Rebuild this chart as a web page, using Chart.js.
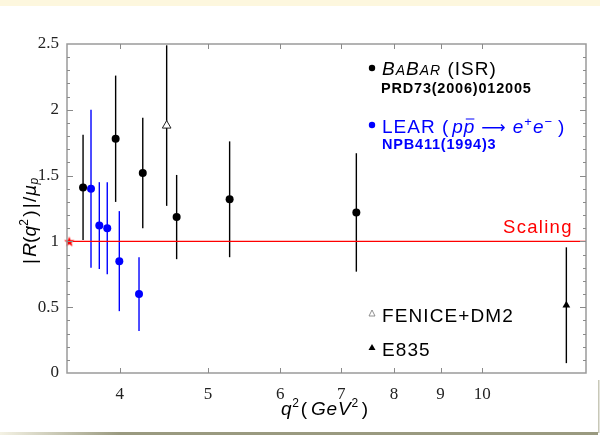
<!DOCTYPE html>
<html>
<head>
<meta charset="utf-8">
<script src="https://cdn.jsdelivr.net/npm/chart.js@4/dist/chart.umd.min.js"></script>
<style>
  html, body { margin: 0; padding: 0; background: #fff; }
  #wrap { width: 600px; height: 436px; position: relative; }
</style>
</head>
<body>
<div id="wrap"><canvas id="myChart" width="600" height="436"></canvas></div>
<script>
// data
const babarQ2 = [3.645, 3.958, 4.239, 4.618, 5.28, 7.274];
const babarR = [1.41, 1.78, 1.52, 1.185, 1.32, 1.22];
const babarErr = [0.40, 0.48, 0.42, 0.32, 0.44, 0.45];

const learQ2 = [3.719, 3.798, 3.875, 3.995, 4.199];
const learR = [1.40, 1.12, 1.10, 0.85, 0.60];
const learErr = [0.60, 0.33, 0.35, 0.38, 0.28];

const feniceQ2 = [4.503];
const feniceR = [1.88];
const feniceErr = [0.61];

const e835Q2 = [12.37];
const e835R = [0.515];
const e835Err = [0.44];

const scalingQ2 = [3.5, 13];
const scalingR = [1, 1];
const thresholdQ2 = [3.52];
const thresholdR = [1];

const xTicks = [4, 5, 6, 7, 8, 9, 10];
const yTicks = [0, 0.5, 1, 1.5, 2, 2.5];

const toPts = (xs, ys) => xs.map((x, i) => ({ x: x, y: ys[i] }));

// red star marker
const star = document.createElement('canvas');
star.width = 12; star.height = 12;
(function () {
    const c = star.getContext('2d');
    c.fillStyle = '#ff0000';
    c.beginPath();
    for (let i = 0; i < 10; i++) {
        const r = i % 2 ? 2.3 : 5.5;
        const a = -Math.PI / 2 + i * Math.PI / 5;
        c.lineTo(6 + r * Math.cos(a), 6.5 + r * Math.sin(a));
    }
    c.closePath();
    c.fill();
})();

function drawRuns(ctx, x, y, runs, spacing) {
    ctx.letterSpacing = (spacing || 0) + 'px';
    runs.forEach(r => {
        ctx.font = r.font;
        ctx.fillStyle = r.color;
        ctx.fillText(r.t, x, y + (r.dy || 0));
        const w = ctx.measureText(r.t).width;
        if (r.overline) {
            ctx.strokeStyle = r.color;
            ctx.lineWidth = 1;
            ctx.beginPath();
            ctx.moveTo(x + 2, y - 14);
            ctx.lineTo(x + w - 1, y - 14);
            ctx.stroke();
        }
        x += w + (r.gap || 0);
    });
    ctx.letterSpacing = '0px';
}

const errorBars = {
    id: 'errorBars',
    beforeDatasetsDraw(chart) {
        const ctx = chart.ctx;
        const xs = chart.scales.x, ys = chart.scales.y;
        const a = chart.chartArea;
        const sets = [
            [babarQ2, babarR, babarErr, '#000000'],
            [learQ2, learR, learErr, '#0000ff'],
            [feniceQ2, feniceR, feniceErr, '#000000'],
            [e835Q2, e835R, e835Err, '#000000']
        ];
        ctx.save();
        ctx.beginPath();
        ctx.rect(a.left, a.top, a.right - a.left, a.bottom - a.top);
        ctx.clip();
        ctx.lineWidth = 1.4;
        sets.forEach(s => {
            ctx.strokeStyle = s[3];
            s[0].forEach((q, i) => {
                const px = xs.getPixelForValue(q);
                ctx.beginPath();
                ctx.moveTo(px, ys.getPixelForValue(s[1][i] + s[2][i]));
                ctx.lineTo(px, ys.getPixelForValue(s[1][i] - s[2][i]));
                ctx.stroke();
            });
        });
        ctx.restore();
    }
};

const decor = {
    id: 'decor',
    beforeDraw(chart) {
        const ctx = chart.ctx;
        ctx.save();
        ctx.fillStyle = '#fdf7de';
        ctx.fillRect(0, 0, 600, 6);
        const g = ctx.createLinearGradient(0, 0, 120, 0);
        g.addColorStop(0, '#f4f2e4');
        g.addColorStop(1, '#9a9a80');
        ctx.fillStyle = g;
        ctx.fillRect(0, 432, 598, 3);
        ctx.fillStyle = '#c8c8b8';
        ctx.fillRect(598, 380, 1.5, 53);
        ctx.restore();
    },
    afterDraw(chart) {
        const ctx = chart.ctx;
        const xs = chart.scales.x, ys = chart.scales.y;
        const a = chart.chartArea;
        ctx.save();
        // frame
        ctx.strokeStyle = '#9a9a9a';
        ctx.lineWidth = 1.5;
        ctx.strokeRect(a.left, a.top, a.right - a.left, a.bottom - a.top);
        // inward ticks
        ctx.lineWidth = 1;
        ctx.strokeStyle = '#8a8a8a';
        ctx.beginPath();
        for (let k = 1; k < 25; k++) {
            const v = k / 10;
            const py = Math.round(ys.getPixelForValue(v)) + 0.5;
            const len = k % 5 === 0 ? 6 : 3;
            ctx.moveTo(a.left, py); ctx.lineTo(a.left + len, py);
            ctx.moveTo(a.right, py); ctx.lineTo(a.right - len, py);
        }
        xTicks.forEach(v => {
            const px = Math.round(xs.getPixelForValue(v)) + 0.5;
            ctx.moveTo(px, a.bottom); ctx.lineTo(px, a.bottom - 5);
            ctx.moveTo(px, a.top); ctx.lineTo(px, a.top + 5);
        });
        ctx.stroke();

        // scaling line label
        ctx.textAlign = 'left';
        ctx.textBaseline = 'alphabetic';
        drawRuns(ctx, 503, 233, [
            { t: 'Scaling', font: '18.5px "Liberation Sans"', color: '#ff0000' }
        ], 1.3);

        // legend
        ctx.fillStyle = '#000';
        ctx.beginPath(); ctx.arc(372, 68, 3.2, 0, Math.PI * 2); ctx.fill();
        drawRuns(ctx, 382, 75, [
            { t: 'B', font: 'italic 19px "Liberation Sans"', color: '#000' },
            { t: 'A', font: 'italic 14px "Liberation Sans"', color: '#000' },
            { t: 'B', font: 'italic 19px "Liberation Sans"', color: '#000' },
            { t: 'AR', font: 'italic 14px "Liberation Sans"', color: '#000' },
            { t: ' (ISR)', font: '19px "Liberation Sans"', color: '#000' }
        ], 1);
        drawRuns(ctx, 381, 93, [
            { t: 'PRD73(2006)012005', font: 'bold 14.5px "Liberation Sans"', color: '#000' }
        ], 0.8);

        ctx.fillStyle = '#0000ff';
        ctx.beginPath(); ctx.arc(372, 125, 3.2, 0, Math.PI * 2); ctx.fill();
        drawRuns(ctx, 382, 133, [
            { t: 'LEAR (', font: '19px "Liberation Sans"', color: '#0000ff', gap: 3 },
            { t: 'p', font: 'italic 19px "Liberation Sans"', color: '#0000ff' },
            { t: 'p', font: 'italic 19px "Liberation Sans"', color: '#0000ff', overline: true, gap: 6 },
            { t: '\u27f6', font: '17px "DejaVu Sans"', color: '#0000ff', gap: 6 },
            { t: 'e', font: 'italic 19px "Liberation Sans"', color: '#0000ff' },
            { t: '+', font: '13px "Liberation Sans"', color: '#0000ff', dy: -7 },
            { t: 'e', font: 'italic 19px "Liberation Sans"', color: '#0000ff' },
            { t: '\u2212', font: '13px "Liberation Sans"', color: '#0000ff', dy: -7, gap: 5 },
            { t: ')', font: '19px "Liberation Sans"', color: '#0000ff' }
        ], 1);
        drawRuns(ctx, 382, 149, [
            { t: 'NPB411(1994)3', font: 'bold 14.5px "Liberation Sans"', color: '#0000ff' }
        ], 0.8);

        // lower legend
        ctx.strokeStyle = '#777';
        ctx.lineWidth = 0.8;
        ctx.beginPath();
        ctx.moveTo(372, 310); ctx.lineTo(375, 316); ctx.lineTo(369, 316); ctx.closePath();
        ctx.stroke();
        ctx.fillStyle = '#000';
        ctx.beginPath();
        ctx.moveTo(372, 344); ctx.lineTo(375.5, 350); ctx.lineTo(368.5, 350); ctx.closePath();
        ctx.fill();
        drawRuns(ctx, 382, 322, [
            { t: 'FENICE+DM2', font: '19px "Liberation Sans"', color: '#000' }
        ], 1.1);
        drawRuns(ctx, 382, 356, [
            { t: 'E835', font: '19px "Liberation Sans"', color: '#000' }
        ], 1.1);

        // axis titles
        drawRuns(ctx, 281, 415, [
            { t: 'q', font: 'italic 19px "Liberation Sans"', color: '#000' },
            { t: '2', font: '12px "Liberation Sans"', color: '#000', dy: -8, gap: 1 },
            { t: '(', font: '19px "Liberation Sans"', color: '#000', gap: 3 },
            { t: 'GeV', font: 'italic 19px "Liberation Sans"', color: '#000' },
            { t: '2', font: '12px "Liberation Sans"', color: '#000', dy: -8, gap: 3 },
            { t: ')', font: '19px "Liberation Sans"', color: '#000' }
        ], 0.8);
        ctx.translate(36, 264);
        ctx.rotate(-Math.PI / 2);
        drawRuns(ctx, 0, 0, [
            { t: '|', font: '19px "Liberation Sans"', color: '#000', gap: 2 },
            { t: 'R', font: 'italic 19px "Liberation Sans"', color: '#000' },
            { t: '(', font: '19px "Liberation Sans"', color: '#000' },
            { t: 'q', font: 'italic 19px "Liberation Sans"', color: '#000' },
            { t: '2', font: '12px "Liberation Sans"', color: '#000', dy: -8, gap: 2 },
            { t: ')', font: '19px "Liberation Sans"', color: '#000', gap: 2 },
            { t: '|', font: '19px "Liberation Sans"', color: '#000', gap: 1 },
            { t: '/', font: '19px "Liberation Sans"', color: '#000', gap: 1 },
            { t: '\u03bc', font: 'italic 17px "DejaVu Sans"', color: '#000' },
            { t: 'p', font: 'italic 12px "Liberation Sans"', color: '#000', dy: 2 }
        ], 0.2);
        ctx.restore();
    }
};

const ctx = document.getElementById('myChart').getContext('2d');

const chart = new Chart(ctx, {
    type: 'scatter',
    data: {
        datasets: [
            {
                label: 'Scaling',
                data: toPts(scalingQ2, scalingR),
                showLine: true,
                borderColor: '#ff0000',
                borderWidth: 1.2,
                pointRadius: 0
            },
            {
                label: 'BABAR (ISR)',
                data: toPts(babarQ2, babarR),
                backgroundColor: '#000000',
                borderWidth: 0,
                pointRadius: 4
            },
            {
                label: 'LEAR',
                data: toPts(learQ2, learR),
                backgroundColor: '#0000ff',
                borderWidth: 0,
                pointRadius: 4
            },
            {
                label: 'FENICE+DM2',
                data: toPts(feniceQ2, feniceR),
                pointStyle: 'triangle',
                backgroundColor: '#ffffff',
                borderColor: '#222222',
                borderWidth: 1,
                pointRadius: 5
            },
            {
                label: 'E835',
                data: toPts(e835Q2, e835R),
                pointStyle: 'triangle',
                backgroundColor: '#000000',
                borderColor: '#000000',
                borderWidth: 0,
                pointRadius: 4.5
            },
            {
                label: 'threshold',
                data: toPts(thresholdQ2, thresholdR),
                pointStyle: star,
                clip: false
            }
        ]
    },
    options: {
        responsive: false,
        animation: false,
        layout: { padding: { top: 44, right: 14, left: 0, bottom: 0 } },
        plugins: {
            legend: { display: false },
            tooltip: { enabled: false }
        },
        scales: {
            x: {
                type: 'logarithmic',
                min: 3.5,
                max: 13,
                afterBuildTicks: scale => {
                    scale.ticks = xTicks.map(v => ({ value: v }));
                },
                afterFit: scale => { scale.height = 63; },
                grid: { display: false, drawTicks: false },
                border: { display: false },
                ticks: {
                    autoSkip: false,
                    maxRotation: 0,
                    padding: 11,
                    color: '#222',
                    font: { family: '"Liberation Serif"', size: 17 },
                    callback: v => String(v)
                }
            },
            y: {
                min: 0,
                max: 2.5,
                afterBuildTicks: scale => {
                    scale.ticks = yTicks.map(v => ({ value: v }));
                },
                afterFit: scale => { scale.width = 67; },
                grid: { display: false, drawTicks: false },
                border: { display: false },
                ticks: {
                    padding: 8,
                    color: '#222',
                    font: { family: '"Liberation Serif"', size: 17 },
                    callback: v => String(v)
                }
            }
        }
    },
    plugins: [errorBars, decor]
});
</script>
</body>
</html>
